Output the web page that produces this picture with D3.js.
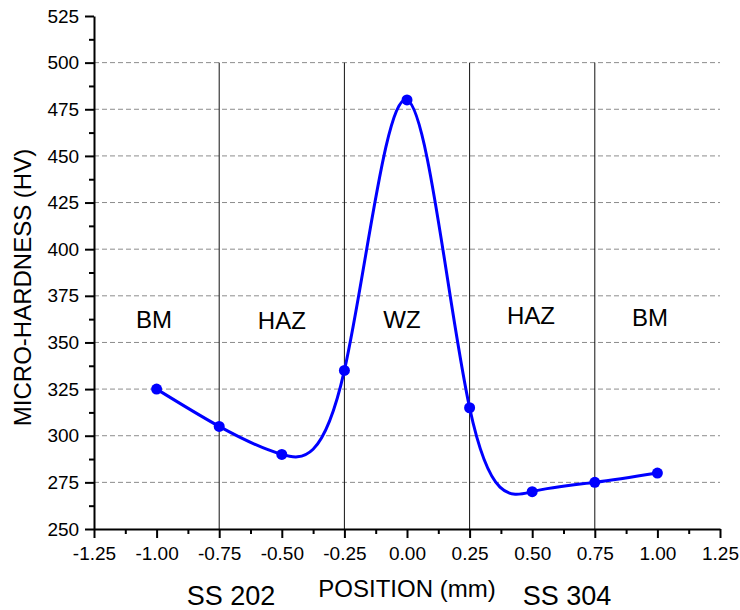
<!DOCTYPE html>
<html>
<head>
<meta charset="utf-8">
<script src="https://cdn.jsdelivr.net/npm/d3@7"></script>
<style>
  body { margin: 0; background: #fff; }
  svg { font-family: "Liberation Sans", Arial, sans-serif; }
</style>
</head>
<body>
<svg id="chart" width="740" height="610"></svg>
<script>
// measured hardness profile across the weld
const positions = [-1.0, -0.75, -0.5, -0.25, 0.0, 0.25, 0.5, 0.75, 1.0];
const hardness = [325, 305, 290, 335, 480, 315, 270, 275, 280];

const zoneBounds = [-0.75, -0.25, 0.25, 0.75];
const zones = [
  { name: "BM", at: -1.01, hv: 358 },
  { name: "HAZ", at: -0.5, hv: 357 },
  { name: "WZ", at: -0.02, hv: 358 },
  { name: "HAZ", at: 0.495, hv: 360 },
  { name: "BM", at: 0.97, hv: 359 }
];

const xTicks = [-1.25, -1.0, -0.75, -0.5, -0.25, 0, 0.25, 0.5, 0.75, 1.0, 1.25];
const yTicks = [250, 275, 300, 325, 350, 375, 400, 425, 450, 475, 500, 525];
const gridValues = [275, 300, 325, 350, 375, 400, 425, 450, 475, 500];

const svg = d3.select("#chart");

const x = d3.scaleLinear().domain([-1.25, 1.25]).range([94, 720]);
const y = d3.scaleLinear().domain([250, 525]).range([529, 16]);

// dashed grid
svg.append("g")
  .selectAll("line")
  .data(gridValues)
  .join("line")
  .attr("x1", x(-1.25)).attr("x2", x(1.25))
  .attr("y1", d => y(d)).attr("y2", d => y(d))
  .attr("stroke", "#8c8c8c")
  .attr("stroke-width", 1)
  .attr("stroke-dasharray", "5,3");

// zone separators
svg.append("g")
  .selectAll("line")
  .data(zoneBounds)
  .join("line")
  .attr("x1", d => x(d)).attr("x2", d => x(d))
  .attr("y1", y(500)).attr("y2", y(250))
  .attr("stroke", "#111")
  .attr("stroke-width", 1);

// zone labels
svg.append("g")
  .selectAll("text")
  .data(zones)
  .join("text")
  .attr("x", d => x(d.at))
  .attr("y", d => y(d.hv))
  .attr("text-anchor", "middle")
  .attr("font-size", "24px")
  .text(d => d.name);

// axes (plain hyphen for negatives, like the original)
const fmt = d => d3.format(".2f")(d).replace("\u2212", "-");

const xAxis = svg.append("g")
  .attr("transform", `translate(0,${y(250)})`)
  .call(d3.axisBottom(x).tickValues(xTicks).tickFormat(fmt).tickSize(9).tickSizeOuter(0));
svg.append("g")
  .attr("transform", `translate(0,${y(250)})`)
  .call(d3.axisBottom(x).tickValues(d3.range(-1.125, 1.2, 0.25)).tickFormat("").tickSize(5).tickSizeOuter(0))
  .call(g => g.select(".domain").remove());

const yAxis = svg.append("g")
  .attr("transform", `translate(${x(-1.25)},0)`)
  .call(d3.axisLeft(y).tickValues(yTicks).tickSize(9).tickSizeOuter(0));
svg.append("g")
  .attr("transform", `translate(${x(-1.25)},0)`)
  .call(d3.axisLeft(y).tickValues(d3.range(262.5, 525, 25)).tickFormat("").tickSize(5).tickSizeOuter(0))
  .call(g => g.select(".domain").remove());

svg.selectAll(".domain, .tick line")
  .attr("stroke", "#000")
  .attr("stroke-width", 2);
svg.selectAll(".tick text")
  .attr("font-family", "Liberation Sans, Arial, sans-serif")
  .attr("font-size", "19px")
  .attr("fill", "#000");
xAxis.selectAll(".tick text").attr("dy", "1.0em");
yAxis.selectAll(".tick text").attr("dx", "-0.15em");

// axis titles
svg.append("text")
  .attr("transform", `translate(31,${(y(250) + y(525)) / 2 + 15}) rotate(-90)`)
  .attr("text-anchor", "middle")
  .attr("font-size", "24px")
  .text("MICRO-HARDNESS (HV)");

svg.append("text")
  .attr("x", x(0))
  .attr("y", 597)
  .attr("text-anchor", "middle")
  .attr("font-size", "24px")
  .text("POSITION (mm)");

svg.append("text")
  .attr("x", 231)
  .attr("y", 605)
  .attr("text-anchor", "middle")
  .attr("font-size", "27px")
  .text("SS 202");

svg.append("text")
  .attr("x", 567)
  .attr("y", 605)
  .attr("text-anchor", "middle")
  .attr("font-size", "27px")
  .text("SS 304");

// smooth spline through the measured points
const line = d3.line()
  .x((d, i) => x(positions[i]))
  .y(d => y(d))
  .curve(d3.curveNatural);

svg.append("path")
  .datum(hardness)
  .attr("d", line)
  .attr("fill", "none")
  .attr("stroke", "#0000ff")
  .attr("stroke-width", 3);

svg.append("g")
  .selectAll("circle")
  .data(positions)
  .join("circle")
  .attr("cx", d => x(d))
  .attr("cy", (d, i) => y(hardness[i]))
  .attr("r", 5.5)
  .attr("fill", "#0000ff");
</script>
</body>
</html>
